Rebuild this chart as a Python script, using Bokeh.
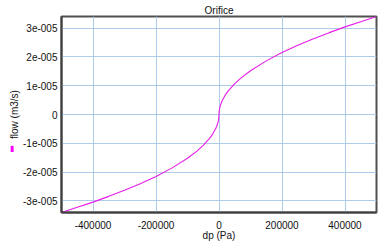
from bokeh.plotting import figure
from bokeh.models import Range1d, FixedTicker, Label
from bokeh.embed import file_html
from bokeh.resources import INLINE

# Data (dp in Pa, flow in m3/s)
dp = [-500000, -450000, -400000, -350000, -300000, -250000, -200000, -150000,
      -100000, -70000, -50000, -30000, -20000, -10000, -5000, -2000, -500, 0,
      500, 2000, 5000, 10000, 20000, 30000, 50000, 70000, 100000, 150000,
      200000, 250000, 300000, 350000, 400000, 450000, 500000]
flow = [-3.40e-5, -3.22e-5, -3.04e-5, -2.84e-5, -2.63e-5, -2.40e-5, -2.15e-5, -1.86e-5,
        -1.52e-5, -1.27e-5, -1.07e-5, -0.83e-5, -0.68e-5, -0.48e-5, -0.34e-5, -0.21e-5, -0.10e-5, 0.0,
        0.10e-5, 0.21e-5, 0.34e-5, 0.48e-5, 0.68e-5, 0.83e-5, 1.07e-5, 1.27e-5, 1.52e-5, 1.86e-5,
        2.15e-5, 2.40e-5, 2.63e-5, 2.84e-5, 3.04e-5, 3.22e-5, 3.40e-5]

x_ticks = [-400000, -200000, 0, 200000, 400000]
x_tick_labels = ["-400000", "-200000", "0", "200000", "400000"]
y_ticks = [-3e-5, -2e-5, -1e-5, 0.0, 1e-5, 2e-5, 3e-5]
y_tick_labels = ["-3e-005", "-2e-005", "-1e-005", "0", "1e-005", "2e-005", "3e-005"]

title = "Orifice"
x_label = "dp (Pa)"
y_label = "flow (m3/s)"
line_color = "#e61ee6"
grid_color = "#aecbea"
FONT = "Liberation Sans"

p = figure(width=384, height=244, output_backend="svg", toolbar_location=None,
           x_range=Range1d(-500000, 500000), y_range=Range1d(-3.4e-5, 3.4e-5),
           min_border_left=61, min_border_right=8, min_border_top=16, min_border_bottom=32)
p.background_fill_color = "white"
p.border_fill_color = "white"
p.outline_line_color = "#505050"
p.outline_line_width = 2

p.title.text = title
p.title.align = "center"
p.title.text_font = FONT
p.title.text_font_size = "10px"
p.title.text_font_style = "normal"
p.title.text_color = "#111111"
p.title.standoff = 2

p.line(dp, flow, line_color=line_color, line_width=1.1)

p.xaxis.ticker = FixedTicker(ticks=x_ticks)
p.xaxis.major_label_overrides = dict(zip(x_ticks, x_tick_labels))
p.yaxis.ticker = FixedTicker(ticks=y_ticks)
p.yaxis.major_label_overrides = dict(zip(y_ticks, y_tick_labels))

for ax in (p.xaxis[0], p.yaxis[0]):
    ax.axis_line_color = "#404040"
    ax.axis_line_width = 2
    ax.major_tick_line_color = None
    ax.minor_tick_line_color = None
    ax.major_tick_out = 0
    ax.major_tick_in = 0
    ax.minor_tick_out = 0
    ax.minor_tick_in = 0
    ax.major_label_text_font = FONT
    ax.major_label_text_font_size = "10px"
    ax.major_label_text_color = "#111111"
    ax.axis_label_text_font = FONT
    ax.axis_label_text_font_size = "10px"
    ax.axis_label_text_font_style = "normal"
    ax.axis_label_text_color = "#111111"

p.xaxis.axis_label = x_label
p.yaxis.axis_label = y_label
p.xaxis.major_label_standoff = 8
p.xaxis.axis_label_standoff = -2
p.yaxis.major_label_standoff = 4
p.yaxis.axis_label_standoff = 0

p.grid.grid_line_color = grid_color
p.grid.grid_line_width = 1
p.xgrid.ticker = FixedTicker(ticks=x_ticks)
p.ygrid.ticker = FixedTicker(ticks=y_ticks)

# legend swatch in front of the rotated y-axis title
marker = Label(x=9.5, y=64, x_units="screen", y_units="screen", text="\u25ae",
               text_color="#ff00ff", text_font="DejaVu Sans", text_font_size="8px",
               text_align="center", text_baseline="middle")
p.add_layout(marker, "left")

open("out.html", "w").write(file_html(p, INLINE))
